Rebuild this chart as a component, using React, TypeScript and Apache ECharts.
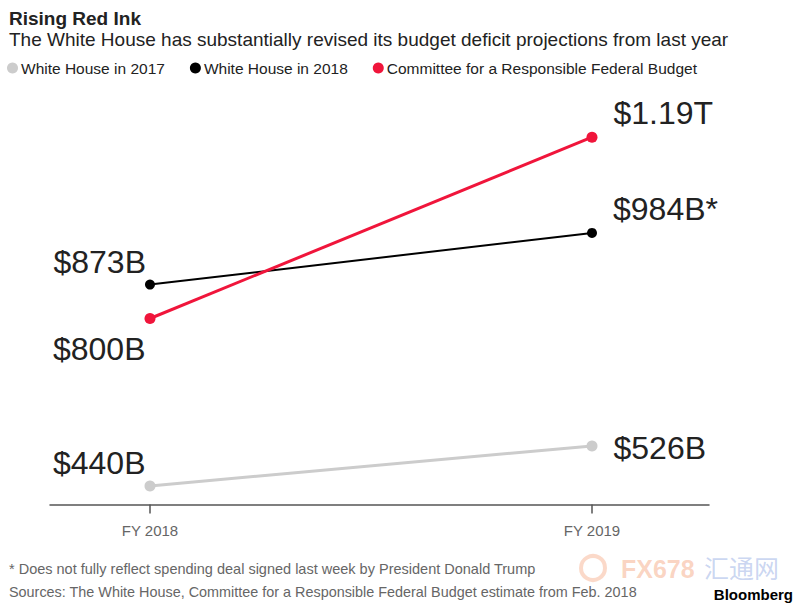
import React, { useEffect, useRef } from "react";
import * as echarts from "echarts";

const categories = ["FY 2018", "FY 2019"];
const wh2017 = [440, 526];
const wh2018 = [873, 984];
const crfb = [800, 1190];
const wh2017Labels = ["$440B", "$526B"];
const wh2018Labels = ["$873B", "$984B*"];
const crfbLabels = ["$800B", "$1.19T"];
const seriesNames = ["White House in 2017", "White House in 2018", "Committee for a Responsible Federal Budget"];

const FONT = "'Liberation Sans', Arial, Helvetica, sans-serif";

export default function App() {
  const ref = useRef<HTMLDivElement>(null);
  useEffect(() => {
    if (!ref.current) return;
    const chart = echarts.init(ref.current, undefined, { renderer: "svg" });
    const bigLabel = { fontSize: 32, color: "#222", fontFamily: FONT };
    const leftAbove = { ...bigLabel, show: true, position: "left", distance: 0, offset: [1, -23] };
    const leftBelow = { ...bigLabel, show: true, position: "left", distance: 0, offset: [1, 30] };
    const rightAbove = { ...bigLabel, show: true, position: "right", distance: 0, offset: [16, -24] };
    const rightMid = { ...bigLabel, show: true, position: "right", distance: 0, offset: [16, 2] };

    const mk = (vals: number[], labels: string[], labelCfgs: any[]) =>
      vals.map((v, i) => ({
        value: [i, v],
        label: { ...labelCfgs[i], formatter: labels[i] },
      }));

    chart.setOption({
      animation: false,
      textStyle: { fontFamily: FONT },
      title: [
        {
          text: "Rising Red Ink",
          left: 4,
          top: 4,
          textStyle: { fontSize: 19, fontWeight: "bold", color: "#222", fontFamily: FONT },
        },
        {
          text: "The White House has substantially revised its budget deficit projections from last year",
          left: 4,
          top: 25,
          textStyle: { fontSize: 19, fontWeight: "normal", color: "#222", fontFamily: FONT },
        },
        {
          text: "* Does not fully reflect spending deal signed last week by President Donald Trump",
          left: 4,
          top: 556,
          textStyle: { fontSize: 14.5, fontWeight: "normal", color: "#666", fontFamily: FONT },
        },
        {
          text: "Sources: The White House, Committee for a Responsible Federal Budget estimate from Feb. 2018",
          left: 4,
          top: 580,
          textStyle: { fontSize: 14.4, fontWeight: "normal", color: "#666", fontFamily: FONT },
        },
        {
          text: "Bloomberg",
          right: 2,
          top: 582,
          textStyle: { fontSize: 15, fontWeight: "bold", color: "#000", fontFamily: FONT },
        },
      ],
      graphic: [
        {
          type: "text",
          left: 621,
          top: 556,
          style: { text: "FX678", fontSize: 25, fontWeight: "bold", fill: "rgba(245,160,120,0.45)", fontFamily: FONT },
        },
        {
          type: "text",
          left: 704,
          top: 554,
          style: { text: "汇通网", fontSize: 25, fill: "rgba(120,150,220,0.4)", fontFamily: "'Noto Sans CJK SC'" },
        },
        {
          type: "circle",
          shape: { cx: 593, cy: 568, r: 12 },
          style: { fill: "none", stroke: "rgba(245,160,120,0.4)", lineWidth: 4 },
        },
      ],
      legend: {
        left: 2,
        top: 55,
        icon: "circle",
        itemWidth: 11,
        itemHeight: 11,
        itemGap: 25,
        textStyle: { fontSize: 15.5, color: "#222", fontFamily: FONT, padding: [0, 0, 0, -2] },
        data: seriesNames,
      },
      grid: { left: 50, right: 91, top: 86, bottom: 102.5 },
      xAxis: {
        type: "value",
        min: -0.2262,
        max: 1.2647,
        splitLine: { show: false },
        axisLine: { show: true, lineStyle: { color: "#555", width: 1.5 } },
        axisTick: { show: true, customValues: [0, 1], length: 9, lineStyle: { color: "#555", width: 1.5 } },
        axisLabel: {
          customValues: [0, 1],
          formatter: (v: number) => categories[Math.round(v)] ?? "",
          margin: 18,
          fontSize: 15,
          color: "#666",
          fontFamily: FONT,
        },
      },
      yAxis: { type: "value", min: 400, max: 1300, show: false },
      series: [
        {
          name: seriesNames[0],
          type: "line",
          color: "#cccccc",
          symbol: "circle",
          symbolSize: 11,
          lineStyle: { width: 3, color: "#cccccc" },
          itemStyle: { color: "#cccccc" },
          data: mk(wh2017, wh2017Labels, [leftAbove, rightMid]),
          z: 2,
        },
        {
          name: seriesNames[1],
          type: "line",
          color: "#000000",
          symbol: "circle",
          symbolSize: 10,
          lineStyle: { width: 2, color: "#000000" },
          itemStyle: { color: "#000000" },
          data: mk(wh2018, wh2018Labels, [leftAbove, rightAbove]),
          z: 3,
        },
        {
          name: seriesNames[2],
          type: "line",
          color: "#f0153b",
          symbol: "circle",
          symbolSize: 11,
          lineStyle: { width: 3, color: "#f0153b" },
          itemStyle: { color: "#f0153b" },
          data: mk(crfb, crfbLabels, [leftBelow, rightAbove]),
          z: 4,
        },
      ],
    });
    return () => chart.dispose();
  }, []);
  return <div ref={ref} style={{ width: 800, height: 607, position: "absolute", left: 0, top: 0 }} />;
}
